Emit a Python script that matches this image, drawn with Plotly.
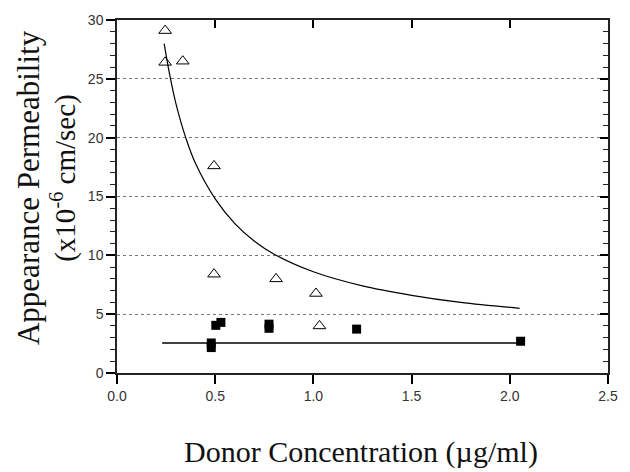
import plotly.graph_objects as go

# Triangles (open)
tri_x = [0.245, 0.245, 0.335, 0.494, 0.494, 0.81, 1.013, 1.031]
tri_y = [29.1, 26.4, 26.5, 17.6, 8.4, 8.0, 6.76, 4.0]

# Squares (filled)
sq_x = [0.48, 0.48, 0.503, 0.529, 0.774, 0.774, 1.22, 2.055]
sq_y = [2.55, 2.16, 4.05, 4.3, 3.8, 4.15, 3.73, 2.7]

# Fitted curve for triangles
fit_x = [0.24, 0.27, 0.30, 0.35, 0.40, 0.50, 0.60, 0.70, 0.80, 1.00, 1.25, 1.50, 1.75, 2.05]
fit_y = [28.0, 25.2, 22.9, 20.0, 17.8, 14.8, 12.7, 11.2, 10.1, 8.6, 7.4, 6.6, 6.0, 5.5]

# Fitted line for squares
line_x = [0.23, 2.05]
line_y = [2.55, 2.55]

x_range = [0, 2.5]
y_range = [0, 30]

fig = go.Figure()
fig.add_trace(go.Scatter(x=fit_x, y=fit_y, mode="lines", line=dict(color="black", width=1.2, shape="spline"),
                         showlegend=False, hoverinfo="skip"))
fig.add_trace(go.Scatter(x=line_x, y=line_y, mode="lines", line=dict(color="black", width=1.3),
                         showlegend=False, hoverinfo="skip"))
fig.add_trace(go.Scatter(x=tri_x, y=tri_y, mode="markers",
                         marker=dict(symbol="triangle-up-open", size=11, color="black", line=dict(width=1)),
                         showlegend=False))
fig.add_trace(go.Scatter(x=sq_x, y=sq_y, mode="markers",
                         marker=dict(symbol="square", size=9, color="black"),
                         showlegend=False))
# invisible trace for mirrored top/right axes
fig.add_trace(go.Scatter(x=x_range, y=y_range, xaxis="x2", yaxis="y2", mode="markers",
                         marker=dict(opacity=0), showlegend=False, hoverinfo="skip"))

tickfont = dict(family="Liberation Sans, Arial", size=14, color="#333")
serif = "Liberation Serif, Times New Roman, serif"

fig.update_layout(
    width=630, height=472,
    margin=dict(l=117, r=22, t=15, b=99),
    paper_bgcolor="white", plot_bgcolor="white",
    xaxis=dict(range=x_range, tick0=0, dtick=0.5, tickformat=".1f", ticks="outside", ticklen=9,
               tickwidth=1.6, tickcolor="black", showline=True, linecolor="#222", linewidth=1.5,
               showgrid=False, zeroline=False, tickfont=tickfont),
    yaxis=dict(range=y_range, tick0=0, dtick=5, ticks="outside", ticklen=9, tickwidth=1.6,
               tickcolor="black", showline=True, linecolor="#222", linewidth=1.5,
               showgrid=True, gridcolor="#777", griddash="dot", gridwidth=1, zeroline=False,
               tickfont=tickfont,
               minor=dict(dtick=1, ticks="outside", ticklen=5, tickwidth=1.3, tickcolor="#222", showgrid=False)),
    xaxis2=dict(range=x_range, overlaying="x", side="top", tick0=0, dtick=0.5, ticks="inside", ticklen=8,
                tickwidth=1.6, tickcolor="black", showticklabels=False, showline=True, linecolor="#222",
                linewidth=1.5, showgrid=False, zeroline=False),
    yaxis2=dict(range=y_range, overlaying="y", side="right", tick0=0, dtick=5, ticks="inside", ticklen=8,
                tickwidth=1.6, tickcolor="black", showticklabels=False, showline=True, linecolor="#222",
                linewidth=1.5, showgrid=False, zeroline=False,
                minor=dict(dtick=1, ticks="inside", ticklen=5, tickwidth=1.3, tickcolor="#222", showgrid=False)),
    annotations=[
        dict(text="Appearance Permeability", xref="paper", yref="paper", x=0, y=0.524,
             xshift=-89, textangle=-90, showarrow=False, xanchor="center", yanchor="middle",
             font=dict(family=serif, size=31, color="#111")),
        dict(text="(x10<sup>-6</sup> cm/sec)", xref="paper", yref="paper", x=0, y=0.553,
             xshift=-53, textangle=-90, showarrow=False, xanchor="center", yanchor="middle",
             font=dict(family=serif, size=29, color="#111")),
        dict(text="Donor Concentration (µg/ml)", xref="paper", yref="paper", x=0.497, y=0,
             yshift=-79, showarrow=False, xanchor="center", yanchor="middle",
             font=dict(family=serif, size=30, color="#111")),
    ],
)

fig.write_html("out.html")
